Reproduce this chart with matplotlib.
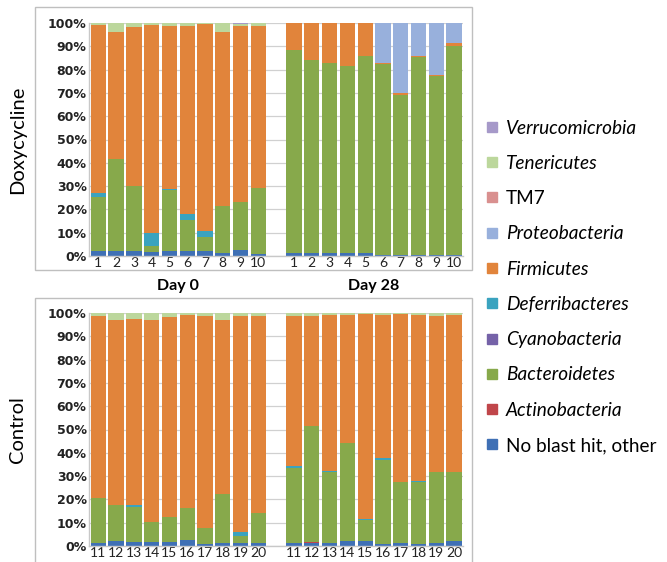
import numpy as np
import matplotlib
matplotlib.use("Agg")
import matplotlib.pyplot as plt
from matplotlib.lines import Line2D
from matplotlib.patches import Rectangle

plt.rcParams['font.family'] = ['Lato', 'DejaVu Sans']

# ---------------- data (percent) ----------------
phyla = ['No blast hit, other', 'Actinobacteria', 'Bacteroidetes', 'Cyanobacteria',
         'Deferribacteres', 'Firmicutes', 'Proteobacteria', 'TM7', 'Tenericutes',
         'Verrucomicrobia']
colors = ['#3f70b5', '#c0464a', '#87a94b', '#7562a8', '#3aa3bf', '#e1843b',
          '#98b0dc', '#d9908f', '#bcd79c', '#a699c9']
italic = [False, True, True, True, True, True, True, False, True, True]

dox_ticks = ['1', '2', '3', '4', '5', '6', '7', '8', '9', '10',
             '1', '2', '3', '4', '5', '6', '7', '8', '9', '10']
ctl_ticks = ['11', '12', '13', '14', '15', '16', '17', '18', '19', '20',
             '11', '12', '13', '14', '15', '16', '17', '18', '19', '20']
group_labels = ['Day 0', 'Day 28']

# Doxycycline: Day 0 samples 1-10, then Day 28 samples 1-10
dox_noblast = [2.1, 2.0, 2.3, 1.8, 2.0, 2.0, 2.2, 1.5, 2.4, 0.8,
               1.2, 1.2, 1.2, 1.4, 1.2, 0.6, 0.6, 0.6, 0.6, 0.6]
dox_actino = [0] * 20
dox_bacteroidetes = [23.4, 39.5, 27.7, 2.7, 26.5, 13.5, 5.8, 19.8, 20.6, 28.2,
                     87.3, 82.8, 81.8, 80.0, 84.8, 81.8, 68.6, 84.8, 76.8, 89.4]
dox_cyano = [0] * 20
dox_deferri = [1.5, 0.3, 0.0, 5.5, 0.4, 2.5, 2.8, 0.2, 0.0, 0.3,
               0, 0, 0, 0, 0, 0, 0, 0, 0, 0]
dox_firmicutes = [72.0, 54.2, 68.3, 89.3, 69.6, 80.5, 88.7, 74.5, 75.8, 69.5,
                  11.5, 16.0, 17.0, 18.6, 14.0, 0.6, 0.8, 0.6, 0.4, 1.3]
dox_proteo = [0, 0, 0, 0, 0, 0, 0, 0, 0, 0,
              0, 0, 0, 0, 0, 17.0, 30.0, 14.0, 22.2, 8.7]
dox_tm7 = [0] * 20
dox_teneri = [1.0, 4.0, 1.7, 0.7, 1.5, 1.5, 0.5, 4.0, 0.8, 1.2,
              0, 0, 0, 0, 0, 0, 0, 0, 0, 0]
dox_verruco = [0, 0, 0, 0, 0, 0, 0, 0, 0.2, 0,
               0, 0, 0, 0, 0, 0, 0, 0, 0, 0]

# Control: Day 0 samples 11-20, then Day 28 samples 11-20
ctl_noblast = [1.3, 2.0, 1.7, 1.6, 1.6, 2.5, 1.0, 1.2, 1.2, 1.5,
               1.5, 1.5, 1.5, 2.0, 2.0, 0.8, 1.5, 1.0, 1.2, 2.0]
ctl_actino = [0, 0, 0, 0, 0, 0, 0, 0, 0, 0,
              0, 0.3, 0, 0, 0, 0, 0, 0, 0, 0]
ctl_bacteroidetes = [19.1, 15.5, 15.1, 8.7, 10.9, 13.7, 6.6, 21.3, 3.1, 12.8,
                     31.8, 49.6, 30.4, 42.3, 9.2, 36.1, 26.0, 26.3, 30.7, 29.6]
ctl_cyano = [0] * 20
ctl_deferri = [0, 0, 0.7, 0, 0, 0, 0, 0, 1.7, 0,
               1.0, 0, 0.4, 0, 0.6, 1.0, 0, 0.4, 0, 0]
ctl_firmicutes = [78.2, 79.6, 80.1, 86.7, 85.8, 83.1, 91.0, 74.6, 92.7, 84.4,
                  64.4, 47.2, 66.7, 55.0, 87.9, 61.4, 72.2, 71.5, 66.8, 67.4]
ctl_proteo = [0] * 20
ctl_tm7 = [0] * 20
ctl_teneri = [1.4, 2.9, 2.4, 3.0, 1.7, 0.7, 1.4, 2.9, 1.3, 1.3,
              1.3, 1.4, 1.0, 0.7, 0.3, 0.7, 0.3, 0.8, 1.3, 1.0]
ctl_verruco = [0] * 20

dox_series = [dox_noblast, dox_actino, dox_bacteroidetes, dox_cyano, dox_deferri,
              dox_firmicutes, dox_proteo, dox_tm7, dox_teneri, dox_verruco]
ctl_series = [ctl_noblast, ctl_actino, ctl_bacteroidetes, ctl_cyano, ctl_deferri,
              ctl_firmicutes, ctl_proteo, ctl_tm7, ctl_teneri, ctl_verruco]

# ---------------- figure ----------------
W, H = 667, 562
fig = plt.figure(figsize=(W / 100, H / 100), dpi=100)

def fx(px):
    return px / W

def fy(py):
    return 1 - py / H

# panel frames
for (x0, y0, x1, y1) in [(35, 7, 472, 270), (35, 298, 472, 575)]:
    fig.add_artist(Rectangle((fx(x0), fy(y1)), fx(x1) - fx(x0), fy(y0) - fy(y1),
                             transform=fig.transFigure, fill=False,
                             edgecolor='#bfbfbf', lw=1.0, zorder=0))

xpos = np.r_[np.arange(10), np.arange(11, 21)]
ax_left, ax_right = 89.4, 463
axes_specs = [(dox_series, dox_ticks, 23, 256, 'Doxycycline'),
              (ctl_series, ctl_ticks, 313, 546, 'Control')]

for series, ticks, ytop, ybot, ylabel in axes_specs:
    ax = fig.add_axes([fx(ax_left), fy(ybot), fx(ax_right) - fx(ax_left), fy(ytop) - fy(ybot)])
    bottom = np.zeros(20)
    for vals, c in zip(series, colors):
        v = np.array(vals, dtype=float)
        ax.bar(xpos, v, bottom=bottom, width=0.86, color=c, linewidth=0, zorder=2)
        bottom += v
    ax.set_xlim(-0.5, 20.5)
    ax.set_ylim(0, 100)
    ax.set_yticks(np.arange(0, 101, 10))
    ax.set_yticklabels([f'{v}%' for v in range(0, 101, 10)], fontsize=9, fontweight='bold',
                       family=['DejaVu Sans'])
    ax.set_xticks(xpos)
    ax.set_xticklabels(ticks, fontsize=10)
    ax.tick_params(axis='y', length=0, pad=2, colors='#222222')
    ax.tick_params(axis='x', length=0, pad=1, colors='#222222')
    ax.yaxis.grid(True, color='#d0d0d0', lw=0.9, zorder=0)
    ax.set_axisbelow(True)
    for s in ['top', 'right']:
        ax.spines[s].set_visible(False)
    for s in ['left', 'bottom']:
        ax.spines[s].set_color('#c8c8c8')
        ax.spines[s].set_linewidth(1.0)
    fig.text(fx(18), (fy(ytop) + fy(ybot)) / 2, ylabel, rotation=90, ha='center',
             va='center', fontsize=14.5)

# Day labels between panels
for lab, cx in zip(group_labels, [4.5, 15.5]):
    xf = fx(ax_left) + (cx + 0.5) / 21 * (fx(ax_right) - fx(ax_left))
    fig.text(xf, fy(286), lab, ha='center', va='center', fontsize=11.5, fontweight='bold')

# legend (top-to-bottom is reverse stacking order)
handles = []
labels = []
for name, c in zip(phyla[::-1], colors[::-1]):
    handles.append(Line2D([], [], marker='s', color=c, linestyle='none', markersize=7))
    labels.append(name)
leg = fig.legend(handles, labels, loc='upper left', bbox_to_anchor=(fx(479), fy(112)),
                 frameon=False, fontsize=13.7, labelspacing=0.96, handlelength=0.55,
                 handletextpad=0.45, borderaxespad=0)
for t, it in zip(leg.get_texts(), italic[::-1]):
    if it:
        t.set_fontstyle('italic')

fig.savefig('out.png', dpi=100)
